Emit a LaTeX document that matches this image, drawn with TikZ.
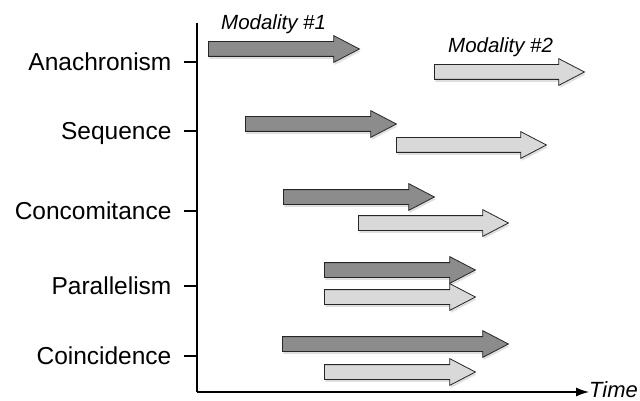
\documentclass[tikz,border=0pt]{standalone}
\usepackage{fontspec}
\setmainfont{Liberation Sans}
\usetikzlibrary{shapes.arrows,shadows,arrows.meta}

\begin{document}
\begin{tikzpicture}[x=1pt,y=-1pt,
    modality/.style ={single arrow, draw=black!85, line width=0.8pt, inner sep=0pt, inner ysep=7pt,
      minimum width=0pt, single arrow head extend=6pt, single arrow tip angle=55, anchor=tail,
      drop shadow={shadow xshift=1pt, shadow yshift=-2.5pt, opacity=0.25}},
    first/.style ={modality, fill=black!45},
    second/.style ={modality, fill=black!15},
    relation/.style ={anchor=east, inner xsep=12pt, inner ysep=0pt, text height=17.5pt, text depth=0pt,
      font=\fontsize{24.5}{28}\selectfont},
    caption/.style ={anchor=base west, inner sep=0pt, font=\itshape\fontsize{20.5}{24}\selectfont},
    axis/.style ={line width=1.2pt}]
   \useasboundingbox (0,0) rectangle (640,401);
   % axes
   \coordinate (origin) at (197,392);
   \coordinate (top) at (197,23);
   \node[anchor=base west, inner sep=0pt, font=\itshape\fontsize{22}{26}\selectfont] (time) at (589,397) {Time};
   \draw[axis] (top) -- (origin);
   \draw[axis, -{Latex[length=13pt,width=9pt]}] (origin) -- (origin -| time.west);
   \foreach \ty/\rel in {62/Anachronism,131/Sequence,211/Concomitance,286/Parallelism,356/Coincidence}
     \draw[axis] (197,\ty) -- (184,\ty) node[relation] (\rel) {\rel};
   % modalities
   \node[first, minimum height=151pt] (anaA) at (208,49) {};
   \node[second, minimum height=150pt] (anaB) at (434,72) {};
   \node[first, minimum height=151pt] (seqA) at (245,124) {};
   \node[second, minimum height=150pt] (seqB) at (396,145) {};
   \node[first, minimum height=151pt] (conA) at (283,197) {};
   \node[second, minimum height=150pt] (conB) at (358,223) {};
   \node[first, minimum height=151pt] (parA) at (324,270) {};
   \node[second, minimum height=151pt] (parB) at (324,297) {};
   \node[first, minimum height=226pt] (coiA) at (282,344) {};
   \node[second, minimum height=151pt] (coiB) at (324,372) {};
   \node[caption] (mod1) at (221,30) {Modality \#1};
   \node[caption] (mod2) at (448,53) {Modality \#2};
 \end{tikzpicture}
\end{document}
